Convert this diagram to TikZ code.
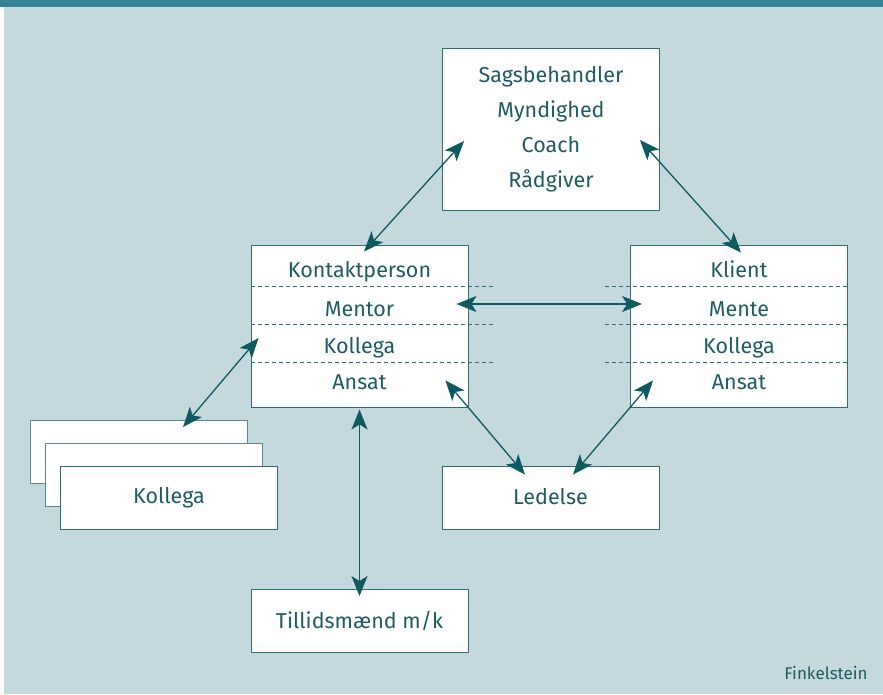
\documentclass[tikz,border=0pt]{standalone}
\usepackage{fontspec}
\setmainfont{Fira Sans}
\usetikzlibrary{arrows.meta,positioning,calc}
\definecolor{panel}{HTML}{C3D9DD}
\definecolor{topbar}{HTML}{348591}
\definecolor{boxline}{HTML}{2C6C74}
\definecolor{ink}{HTML}{1E5C63}
\definecolor{arrowc}{HTML}{0E5A61}

\begin{document}
\begin{tikzpicture}[x=1pt, y=-1pt,
    box/.style={draw=boxline, fill=white, line width=0.9pt, minimum width=217pt, minimum height=63pt, inner sep=0pt, text=ink, font=\fontsize{21.5}{35}\selectfont, align=center},
    row/.style={anchor=base, text=ink, font=\fontsize{21.5}{25}\selectfont, inner sep=0pt},
    divider/.style={draw=boxline, dash pattern=on 4pt off 3pt, line width=0.9pt},
    arr/.style={{Stealth[length=20pt,width=16pt,inset=5pt]}-{Stealth[length=20pt,width=16pt,inset=5pt]}, draw=arrowc, line width=1.3pt}
]
\useasboundingbox (0,0) rectangle (883,694);
\fill[white] (0,0) rectangle (883,694);
\fill[panel] (4,7) rectangle (883,694);
\fill[topbar] (0,0) rectangle (883,7);

\node[box, minimum height=162pt] (sag) at (551,129) {Sagsbehandler\\Myndighed\\Coach\\Rådgiver};

\node[box, minimum height=162pt] (kontakt) at (359.5,326) {};
\node[box, minimum height=162pt] (klient) at (739,326) {};
\draw[divider] (251,286) -- (493,286);
\draw[divider] (251,324) -- (493,324);
\draw[divider] (251,362) -- (493,362);
\draw[divider] (605,286) -- (847,286);
\draw[divider] (605,324) -- (847,324);
\draw[divider] (605,362) -- (847,362);
\node[row] (kp) at (359.5,277) {Kontaktperson};
\node[row] (mentor) at (359.5,316) {Mentor};
\node[row] (kol1) at (359.5,353) {Kollega};
\node[row] (ans1) at (359.5,389) {Ansat};
\node[row] (kl) at (739,277) {Klient};
\node[row] (mente) at (739,316) {Mente};
\node[row] (kol2) at (739,353) {Kollega};
\node[row] (ans2) at (739,389) {Ansat};

\node[box, draw=boxline!80] (k1) at (139,452) {};
\node[box, draw=boxline!80] (k2) at (154,475) {};
\node[box] (k3) at (169,497.5) {Kollega};
\node[box] (ledelse) at (550.5,497.5) {\raisebox{2pt}{Ledelse}};
\node[box] (tillid) at (359.5,621) {Tillidsmænd m/k};

\node[text=ink, font=\fontsize{17}{19}\selectfont] (kilde) at (826,673) {Finkelstein};

\draw[arr] ([shift={(22,12)}]sag.west) -- ([shift={(4.5,7)}]kontakt.north);
\draw[arr] ([shift={(-20,11)}]sag.east) -- ([shift={(2,8)}]klient.north);
\draw[arr] ([shift={(-12,-22)}]kontakt.east) -- ([shift={(12,-22)}]klient.west);
\draw[arr] ([shift={(8,12)}]kontakt.west) -- ([shift={(44,7)}]k1.north);
\draw[arr] ([shift={(-23,-27)}]kontakt.south east) -- ([shift={(-25.5,9)}]ledelse.north);
\draw[arr] ([shift={(23,-27)}]klient.south west) -- ([shift={(22.5,9)}]ledelse.north);
\draw[arr] ([shift={(0,2)}]kontakt.south) -- ([shift={(0,7)}]tillid.north);
\end{tikzpicture}
\end{document}
